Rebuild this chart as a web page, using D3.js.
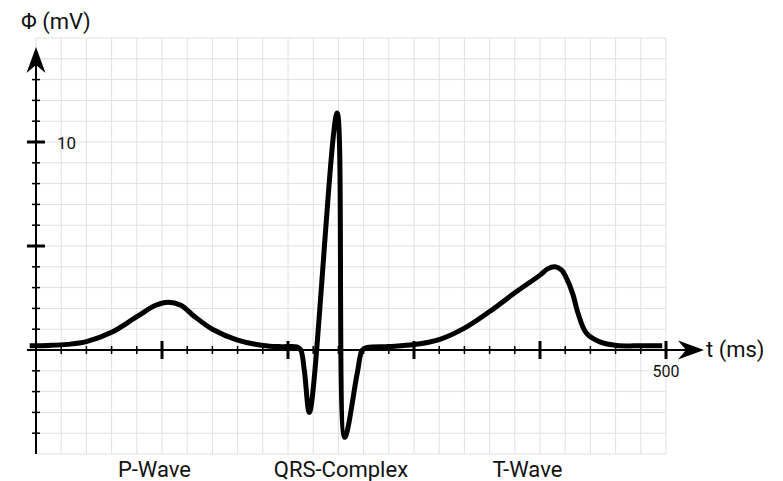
<!DOCTYPE html>
<html>
<head>
<meta charset="utf-8">
<script src="https://cdn.jsdelivr.net/npm/d3@7"></script>
<style>
  body { margin: 0; background: #fff; }
  text { font-family: Roboto, "Noto Sans", sans-serif; fill: #111; }
</style>
</head>
<body>
<svg id="chart" width="783" height="481"></svg>
<script>
"use strict";

// ECG trace: time (ms) and potential (mV)
var times  = [-5, 10, 25, 40, 60, 80, 95, 105, 115, 125,
              140, 160, 180, 195, 207, 210, 213, 217, 239, 245,
              255, 259, 263, 280, 300, 320, 340, 360, 380, 400,
              406, 412, 417, 421, 426, 430, 437, 448, 461, 480,
              497];
var values = [0.2, 0.22, 0.27, 0.4, 0.85, 1.6, 2.15, 2.3, 2.15, 1.65,
              1.0, 0.48, 0.22, 0.16, 0.15, 0.02, -1.0, -3.0, 11.4, -4.2,
              -1.1, 0, 0.12, 0.17, 0.26, 0.5, 1.05, 1.85, 2.75, 3.6,
              3.9, 4.0, 3.85, 3.45, 2.7, 1.8, 0.8, 0.38, 0.22, 0.2,
              0.2];

var xMinorTicks = d3.range(20, 500, 20);
var xMajorTicks = [100, 200, 300, 400, 500];
var yMinorTicks = d3.range(-4, 15, 1);
var yMajorTicks = [5, 10];
var xTickLabels = [500];
var yTickLabels = [10];
var waveLabels  = ["P-Wave", "QRS-Complex", "T-Wave"];
var waveTimes   = [94, 242, 390];

var svg = d3.select("#chart");

var x = d3.scaleLinear().domain([0, 500]).range([36, 666]);
var y = d3.scaleLinear().domain([-5, 15]).range([454, 38]);

// grid
var grid = svg.append("g")
  .attr("class", "grid")
  .style("stroke", "#e0e0e0")
  .style("stroke-width", "1px");

grid.selectAll(".vgrid")
  .data(d3.range(0, 501, 20))
  .enter().append("line")
  .attr("x1", function(d) { return x(d); })
  .attr("x2", function(d) { return x(d); })
  .attr("y1", y(-5))
  .attr("y2", y(15));

grid.selectAll(".hgrid")
  .data(d3.range(-5, 16, 1))
  .enter().append("line")
  .attr("x1", x(0))
  .attr("x2", x(500))
  .attr("y1", function(d) { return y(d); })
  .attr("y2", function(d) { return y(d); });

// axes
var axes = svg.append("g")
  .attr("class", "axes")
  .style("stroke", "#000");

axes.append("line")
  .attr("x1", x(0)).attr("x2", x(0))
  .attr("y1", y(-5)).attr("y2", 60)
  .style("stroke-width", "2px");

axes.append("line")
  .attr("x1", 27).attr("x2", 690)
  .attr("y1", y(0)).attr("y2", y(0))
  .style("stroke-width", "2px");

axes.selectAll(".xminor")
  .data(xMinorTicks)
  .enter().append("line")
  .attr("x1", function(d) { return x(d); })
  .attr("x2", function(d) { return x(d); })
  .attr("y1", y(0) - 4).attr("y2", y(0) + 4)
  .style("stroke-width", "1.5px");

axes.selectAll(".xmajor")
  .data(xMajorTicks)
  .enter().append("line")
  .attr("x1", function(d) { return x(d); })
  .attr("x2", function(d) { return x(d); })
  .attr("y1", y(0) - 9).attr("y2", y(0) + 9)
  .style("stroke-width", "3px");

axes.selectAll(".yminor")
  .data(yMinorTicks.filter(function(d) { return d !== 0 && yMajorTicks.indexOf(d) < 0; }))
  .enter().append("line")
  .attr("x1", x(0) - 4).attr("x2", x(0) + 4)
  .attr("y1", function(d) { return y(d); })
  .attr("y2", function(d) { return y(d); })
  .style("stroke-width", "1.5px");

axes.selectAll(".ymajor")
  .data(yMajorTicks)
  .enter().append("line")
  .attr("x1", x(0) - 9).attr("x2", x(0) + 9)
  .attr("y1", function(d) { return y(d); })
  .attr("y2", function(d) { return y(d); })
  .style("stroke-width", "3px");

// arrow heads
var ax = x(0), ay = y(0);
svg.append("path")
  .attr("d", "M" + ax + ",47L" + (ax - 9.5) + ",73L" + ax + ",65L" + (ax + 9.5) + ",73Z")
  .style("fill", "#000");
svg.append("path")
  .attr("d", "M704," + ay + "L678," + (ay - 9.5) + "L686," + ay + "L678," + (ay + 9.5) + "Z")
  .style("fill", "#000");

// trace
var line = d3.line()
  .x(function(d, i) { return x(times[i]); })
  .y(function(d) { return y(d); })
  .curve(d3.curveCatmullRom.alpha(0.5));

svg.append("path")
  .datum(values)
  .attr("d", line)
  .style("fill", "none")
  .style("stroke", "#000")
  .style("stroke-width", "5px")
  .style("stroke-linejoin", "round")
  .style("stroke-linecap", "butt");

// labels
svg.append("text")
  .attr("x", 21).attr("y", 29)
  .style("font-size", "22px")
  .text("Φ (mV)");

svg.append("text")
  .attr("x", 706).attr("y", ay + 7)
  .style("font-size", "22px")
  .text("t (ms)");

svg.selectAll(".ylabel")
  .data(yTickLabels)
  .enter().append("text")
  .attr("x", 57)
  .attr("y", function(d) { return y(d) + 7; })
  .style("font-size", "17px")
  .text(function(d) { return d; });

svg.selectAll(".xlabel")
  .data(xTickLabels)
  .enter().append("text")
  .attr("x", function(d) { return x(d); })
  .attr("y", ay + 27)
  .attr("text-anchor", "middle")
  .style("font-size", "16px")
  .text(function(d) { return d; });

svg.selectAll(".wave")
  .data(waveLabels)
  .enter().append("text")
  .attr("x", function(d, i) { return x(waveTimes[i]); })
  .attr("y", 477)
  .attr("text-anchor", "middle")
  .style("font-size", "22px")
  .text(function(d) { return d; });
</script>
</body>
</html>
